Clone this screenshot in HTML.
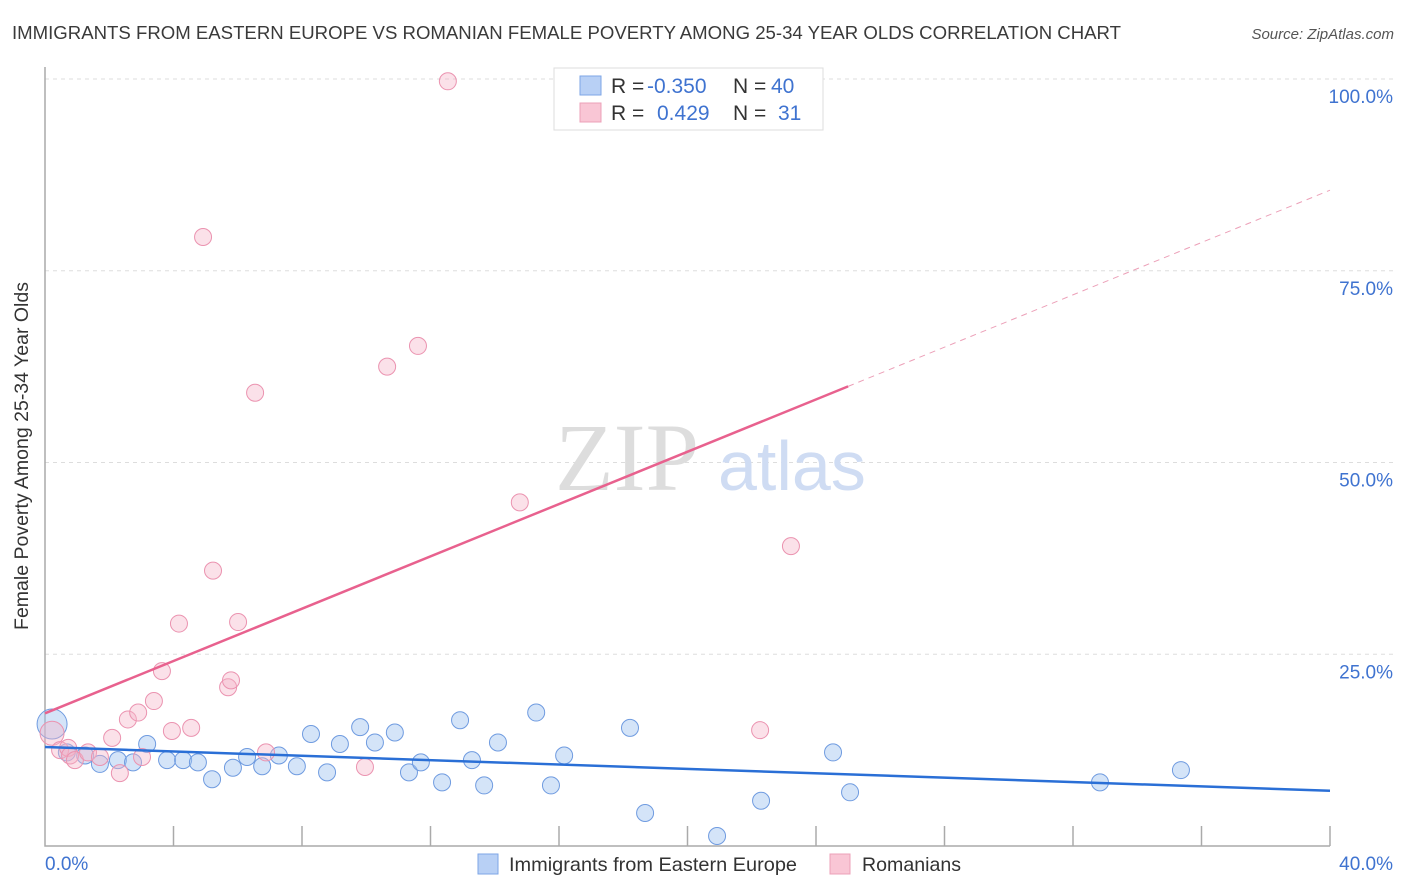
<!DOCTYPE html>
<html><head><meta charset="utf-8"><style>
body{margin:0;background:#fff;font-family:"Liberation Sans",sans-serif;}
svg{display:block}
</style></head><body>
<svg id="chart" width="1406" height="892" xmlns="http://www.w3.org/2000/svg">
<text x="12" y="39" font-size="18" fill="#3a3a3a" textLength="1109" lengthAdjust="spacingAndGlyphs">IMMIGRANTS FROM EASTERN EUROPE VS ROMANIAN FEMALE POVERTY AMONG 25-34 YEAR OLDS CORRELATION CHART</text>
<text x="1394" y="39" font-size="15" fill="#555" font-style="italic" text-anchor="end">Source: ZipAtlas.com</text>
<g id="grid"></g>
<g><text x="555" y="490" font-size="96" font-family="Liberation Serif,serif" fill="#ddd">ZIP</text><text x="718" y="490" font-size="70" fill="#cfdcf3">atlas</text></g>
<g id="axes"></g>
<g id="pts"></g>
<g id="lines"></g>
<text x="28" y="456" font-size="19.5" fill="#333" text-anchor="middle" transform="rotate(-90 28 456)">Female Poverty Among 25-34 Year Olds</text>
<g>
<rect x="554" y="68" width="269" height="62" fill="#fff" stroke="#ddd"/>
<rect x="580" y="76" width="21" height="19" fill="#b8d0f5" stroke="#7ea6e6"/>
<rect x="580" y="103" width="21" height="19" fill="#f9c6d5" stroke="#eca0b8"/>
<text x="611" y="93" font-size="21" fill="#333">R = <tspan x="647" fill="#3f73d0">-0.350</tspan><tspan x="733">N = </tspan><tspan x="771" fill="#3f73d0">40</tspan></text>
<text x="611" y="120" font-size="21" fill="#333">R = <tspan x="657" fill="#3f73d0">0.429</tspan><tspan x="733">N = </tspan><tspan x="778" fill="#3f73d0">31</tspan></text>
</g>
<g>
<rect x="478" y="854" width="20" height="20" fill="#b8d0f5" stroke="#7ea6e6"/>
<text x="509" y="871" font-size="19.5" fill="#333" textLength="288" lengthAdjust="spacingAndGlyphs">Immigrants from Eastern Europe</text>
<rect x="830" y="854" width="20" height="20" fill="#f9c6d5" stroke="#eca0b8"/>
<text x="862" y="871" font-size="19.5" fill="#333" textLength="99" lengthAdjust="spacingAndGlyphs">Romanians</text>
</g>
</svg>
<script>
const yTicks=[25,50,75,100];
const yTickLabels=["25.0%","50.0%","75.0%","100.0%"];
const xTicks=[0,4,8,12,16,20,24,28,32,36,40];
const blueX=[0.22,0.68,1.25,1.71,2.27,2.74,3.18,3.80,4.30,4.76,5.20,5.85,6.29,6.76,7.28,7.84,8.28,8.78,9.18,9.81,10.27,10.89,11.33,11.70,12.36,12.92,13.29,13.67,14.10,15.29,15.75,16.16,18.21,18.68,20.92,22.29,24.53,25.06,32.84,35.36];
const blueY=[15.9,12.2,11.8,10.7,11.2,10.9,13.3,11.2,11.2,10.9,8.7,10.2,11.6,10.4,11.8,10.4,14.6,9.6,13.3,15.5,13.5,14.8,9.6,10.9,8.3,16.4,11.2,7.9,13.5,17.4,7.9,11.8,15.4,4.3,1.3,5.9,12.2,7.0,8.3,9.9];
const pinkX=[0.22,0.47,0.72,0.78,0.93,1.34,1.71,2.09,2.33,2.58,2.90,3.02,3.39,3.64,3.95,4.17,4.55,4.92,5.23,5.70,5.79,6.01,6.54,6.88,9.96,10.65,11.61,12.54,14.78,22.26,23.22];
const pinkY=[14.7,12.5,12.8,11.8,11.2,12.2,11.6,14.1,9.5,16.5,17.4,11.6,18.9,22.8,15.0,29.0,15.4,79.4,35.9,20.7,21.6,29.2,59.1,12.2,10.3,62.5,65.2,99.7,44.8,15.1,39.1];
const blueTrend=[12.9,7.2];
const pinkTrend=[17.3,85.5];
const pinkSolidEnd=25;
const X0=45,X1=1330,Y0=846,Y100=79;
const sx=v=>X0+(X1-X0)*v/40, sy=v=>Y0-(Y0-Y100)*v/100;
const NS="http://www.w3.org/2000/svg";
function mk(tag,attrs,parent){const e=document.createElementNS(NS,tag);for(const k in attrs)e.setAttribute(k,attrs[k]);document.getElementById(parent).appendChild(e);return e;}
yTicks.forEach((t,i)=>{
 const l=mk('line',{x1:X0,x2:1394,y1:sy(t),y2:sy(t),stroke:'#ddd','stroke-dasharray':'4,4'},'grid');
 
 
 const tx=mk('text',{x:1393,y:sy(t)+24,'font-size':19,fill:'#3f73d0','text-anchor':'end'},'axes');
 tx.textContent=yTickLabels[i];
 
 
});
const ax=mk('path',{d:`M${X0} 67V${Y0}H${X1}`,stroke:'#aaa',fill:'none','stroke-width':1.5},'axes');


xTicks.forEach(t=>{if(t===0)return;
 const l=mk('line',{x1:sx(t),x2:sx(t),y1:826,y2:Y0,stroke:'#aaa','stroke-width':1.5},'axes');
 
 
});
[[0,"0.0%",'start',45],[40,"40.0%",'end',1393]].forEach(a=>{
 const tx=mk('text',{x:a[3],y:870,'font-size':19,fill:'#3f73d0','text-anchor':a[2]},'axes');
 tx.textContent=a[1];
 
 
});
blueX.forEach((x,i)=>{
 const c=mk('circle',{cx:sx(x),cy:sy(blueY[i]),r:i===0?15:8.5,fill:'rgba(160,195,240,0.45)',stroke:'#6f9be0','stroke-width':1},'pts');
 
 
});
pinkX.forEach((x,i)=>{
 const c=mk('circle',{cx:sx(x),cy:sy(pinkY[i]),r:i===0?12:8.5,fill:'rgba(245,180,200,0.4)',stroke:'#eb93b0','stroke-width':1},'pts');
 
 
});
const bl=mk('line',{x1:sx(0),y1:sy(blueTrend[0]),x2:sx(40),y2:sy(blueTrend[1]),stroke:'#2a6fd6','stroke-width':2.5},'lines');


const pe=pinkTrend[0]+(pinkTrend[1]-pinkTrend[0])*pinkSolidEnd/40;
const pl=mk('line',{x1:sx(0),y1:sy(pinkTrend[0]),x2:sx(pinkSolidEnd),y2:sy(pe),stroke:'#e8618e','stroke-width':2.5},'lines');


const pd=mk('line',{x1:sx(pinkSolidEnd),y1:sy(pe),x2:sx(40),y2:sy(pinkTrend[1]),stroke:'#eca0b8','stroke-width':1,'stroke-dasharray':'6,5'},'lines');


</script>
</body></html>
